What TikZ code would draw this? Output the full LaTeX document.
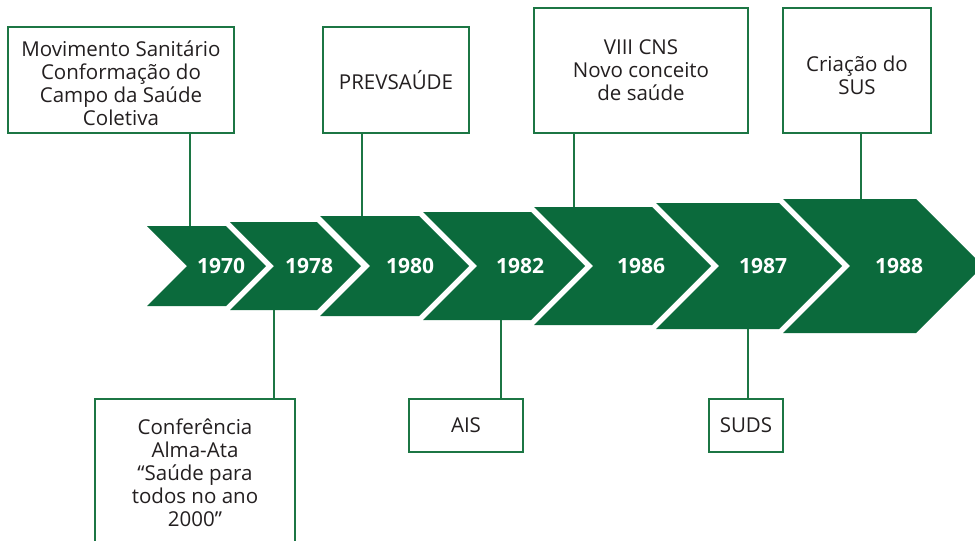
\documentclass[tikz,border=0pt]{standalone}
\usepackage{fontspec}
\setmainfont{Open Sans}
\definecolor{sgreen}{RGB}{11,106,60}
\definecolor{bgreen}{RGB}{28,118,68}
\definecolor{txt}{RGB}{35,31,32}
\begin{document}
\begin{tikzpicture}[x=1pt,y=-1pt,
  chev/.style={fill=sgreen},
  year/.style={text=white,font=\fontsize{21}{25}\selectfont\bfseries},
  box/.style={draw=bgreen,line width=2pt,fill=white,align=center,text=txt,
    font=\fontsize{20.5}{23}\selectfont,inner sep=0pt},
  lbl/.style={align=center,text=txt,font=\fontsize{20.5}{23}\selectfont,inner sep=0pt},
  conn/.style={draw=bgreen,line width=1.8pt}]
\clip (0,0) rectangle (975,541);
\fill[white] (0,0) rectangle (975,541);
% chevrons
\fill[chev] (147,226) -- (226,226) -- (266,266) -- (226,306) -- (147,306) -- (187,266) -- cycle;
\fill[chev] (230,222) -- (317,222) -- (361,266) -- (317,310) -- (230,310) -- (274,266) -- cycle;
\fill[chev] (320,216) -- (419,216) -- (469,266) -- (419,316) -- (320,316) -- (370,266) -- cycle;
\fill[chev] (423,212) -- (531,212) -- (585,266) -- (531,320) -- (423,320) -- (477,266) -- cycle;
\fill[chev] (534,207) -- (652,207) -- (711,266) -- (652,325) -- (534,325) -- (593,266) -- cycle;
\fill[chev] (656,203) -- (779,203) -- (842,266) -- (779,329) -- (656,329) -- (719,266) -- cycle;
\fill[chev] (783,199) -- (916,199) -- (983,266) -- (916,333) -- (783,333) -- (850,266) -- cycle;
% years
\node[year] (y1) at (221,266) {1970};
\node[year] (y2) at (309,266) {1978};
\node[year] (y3) at (410,266) {1980};
\node[year] (y4) at (520,266) {1982};
\node[year] (y5) at (641,266) {1986};
\node[year] (y6) at (763,266) {1987};
\node[year] (y7) at (899,266) {1988};
% attachment points on chevrons
\coordinate (k1) at (190,226);
\coordinate (k2) at (274,310);
\coordinate (k3) at (362,216);
\coordinate (k4) at (501,320);
\coordinate (k5) at (574,207);
\coordinate (k6) at (748,329);
\coordinate (k7) at (861,199);
% boxes
\node[box,minimum width=226pt,minimum height=106pt] (b1) at (121,80) {};
\node[lbl] (t1) at (121,83)
  {Movimento Sanitário\\Conformação do\\Campo da Saúde\\Coletiva};
\node[box,minimum width=146pt,minimum height=106pt] (b2) at (396,80) {PREVSAÚDE};
\node[box,minimum width=214pt,minimum height=125pt] (b3) at (641,70.5)
  {VIII CNS\\Novo conceito\\de saúde};
\node[box,minimum width=148pt,minimum height=125pt] (b4) at (857,70.5) {};
\node[lbl] (t4) at (857,75) {Criação do\\SUS};
\node[box,minimum width=200pt,minimum height=148pt] (b5) at (195,473)
  {Conferência\\Alma-Ata\\“Saúde para\\todos no ano\\2000”};
\node[box,minimum width=114pt,minimum height=53pt] (b6) at (466,425.5) {AIS};
\node[box,minimum width=74pt,minimum height=53pt] (b7) at (746,425.5) {SUDS};
% connectors
\draw[conn] (b1.south -| k1) -- (k1);
\draw[conn] (k2) -- (b5.north -| k2);
\draw[conn] (b2.south -| k3) -- (k3);
\draw[conn] (k4) -- (b6.north -| k4);
\draw[conn] (b3.south -| k5) -- (k5);
\draw[conn] (k6) -- (b7.north -| k6);
\draw[conn] (b4.south -| k7) -- (k7);
\end{tikzpicture}
\end{document}
